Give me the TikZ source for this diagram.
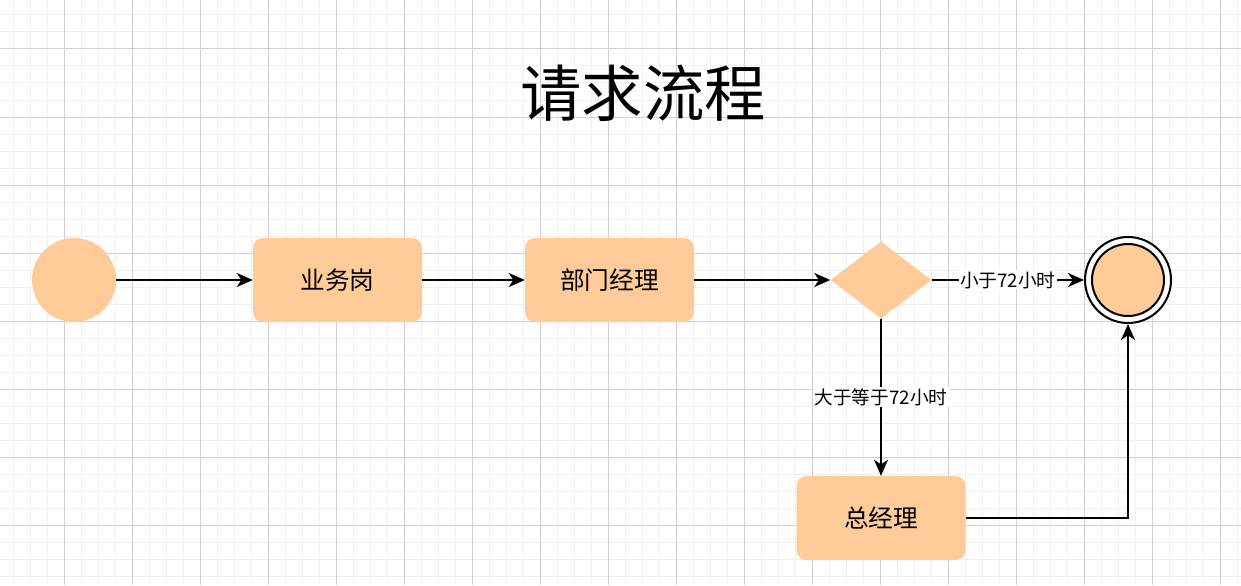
\documentclass[tikz,border=0pt]{standalone}
\usepackage{fontspec}
\setmainfont{Noto Sans CJK SC}
\usetikzlibrary{shapes.geometric,arrows.meta}
\definecolor{peach}{HTML}{FFCC99}
\definecolor{gridmajor}{HTML}{D0D0D0}
\definecolor{gridminor}{HTML}{F0F0F0}

\begin{document}
\begin{tikzpicture}[x=0.75pt, y=-0.75pt,
        box/.style = {fill=peach, rounded corners=7.5pt, minimum width=126.75pt, minimum height=63pt, inner sep=0pt, font=\fontsize{18.5pt}{21pt}\selectfont},
        dot/.style = {circle, fill=peach, minimum size=63pt, inner sep=0pt},
        choice/.style = {diamond, fill=peach, minimum width=75.75pt, minimum height=57.75pt, inner sep=0pt},
        edgelabel/.style = {fill=white, inner sep=1pt, font=\fontsize{14pt}{16pt}\selectfont},
        arr/.style = {line width=1.5pt, -{Stealth[length=12pt, width=10.5pt, inset=3.5pt]}}
    ]
        \useasboundingbox[fill=white] (0,0) rectangle (1241,585);
        \foreach \x in {13,30,...,1241} \draw[gridminor, line width=0.75pt] (\x,0) -- (\x,585);
        \foreach \y in {15,32,...,585} \draw[gridminor, line width=0.75pt] (0,\y) -- (1241,\y);
        \foreach \x in {64,132,...,1241} \draw[gridmajor, line width=0.75pt] (\x,0) -- (\x,585);
        \foreach \y in {49,117,...,585} \draw[gridmajor, line width=0.75pt] (0,\y) -- (1241,\y);

        \node[font=\fontsize{46pt}{50pt}\selectfont] (title) at (643,93) {请求流程};

        \node[dot] (start) at (74,280) {};
        \node[box] (staff) at (337.5,280) {业务岗};
        \node[box] (dept) at (609.5,280) {部门经理};
        \node[choice] (check) at (881,280) {};
        \node[box] (gm) at (881,518) {总经理};
        \node[circle, draw, fill=white, line width=1.5pt, minimum size=64.5pt, inner sep=0pt] (stop) at (1128,280) {};
        \node[circle, draw, fill=peach, line width=1.5pt, minimum size=54pt, inner sep=0pt] (stopin) at (stop) {};

        \draw[arr] (start) -- (staff);
        \draw[arr] (staff) -- (dept);
        \draw[arr] (dept) -- (check);
        \draw[arr] (check) -- node[edgelabel] {小于72小时} (stop);
        \draw[arr] (check) -- node[edgelabel] {大于等于72小时} (gm);
        \draw[arr] (gm.east) -| (stop.south);
    \end{tikzpicture}
\end{document}
